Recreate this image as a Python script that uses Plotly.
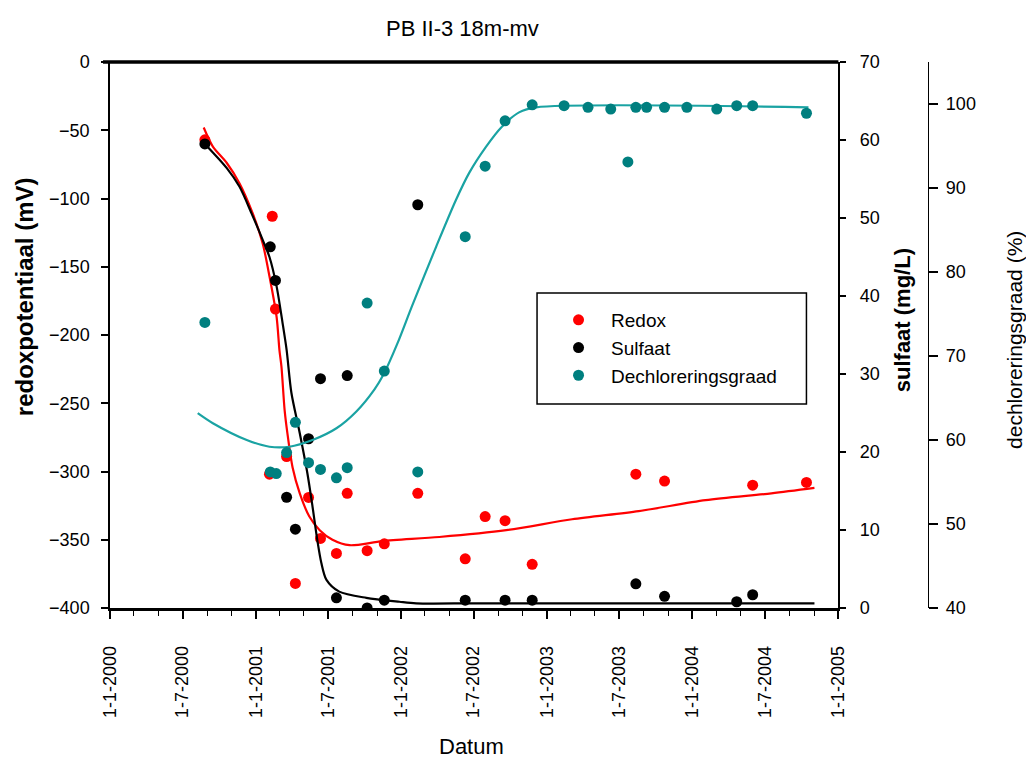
import plotly.graph_objects as go

# --- measurements -----------------------------------------------------------
redox_dates = ["2000-08-26", "2001-02-04", "2001-02-11", "2001-02-19", "2001-03-19",
               "2001-04-10", "2001-05-13", "2001-06-12", "2001-07-22", "2001-08-18",
               "2001-10-07", "2001-11-19", "2002-02-11", "2002-06-10", "2002-07-30",
               "2002-09-18", "2002-11-25", "2003-08-12", "2003-10-23", "2004-05-31",
               "2004-10-13"]
redox_mv = [-57, -302, -113, -181, -289, -382, -319, -349, -360, -316,
            -358, -353, -316, -364, -333, -336, -368, -302, -307, -310, -308]

sulfaat_dates = ["2000-08-26", "2001-02-06", "2001-02-19", "2001-03-19", "2001-04-10",
                 "2001-05-13", "2001-06-12", "2001-07-22", "2001-08-18", "2001-10-07",
                 "2001-11-19", "2002-02-11", "2002-06-10", "2002-09-18", "2002-11-25",
                 "2003-08-12", "2003-10-23", "2004-04-21", "2004-05-31"]
sulfaat_mgl = [59.5, 46.3, 42.0, 14.2, 10.1, 21.7, 29.4, 1.3, 29.8, 0.0,
               1.0, 51.7, 1.0, 1.0, 1.0, 3.1, 1.5, 0.8, 1.7]

dechlor_dates = ["2000-08-26", "2001-02-06", "2001-02-21", "2001-03-19", "2001-04-10",
                 "2001-05-13", "2001-06-12", "2001-07-22", "2001-08-18", "2001-10-07",
                 "2001-11-19", "2002-02-11", "2002-06-10", "2002-07-30", "2002-09-18",
                 "2002-11-25", "2003-02-13", "2003-04-14", "2003-06-10", "2003-07-23",
                 "2003-08-12", "2003-09-08", "2003-10-23", "2003-12-18", "2004-03-02",
                 "2004-04-21", "2004-05-31", "2004-10-13"]
dechlor_pct = [74.0, 56.2, 56.0, 58.5, 62.1, 57.3, 56.5, 55.5, 56.7, 76.3,
               68.2, 56.2, 84.2, 92.6, 98.0, 99.9, 99.8, 99.6, 99.4, 93.1,
               99.6, 99.6, 99.6, 99.6, 99.4, 99.8, 99.8, 98.9]

# --- trend lines --------------------------------------------------------------
redox_fit_dates = ["2000-08-23", "2000-09-15", "2000-10-20", "2000-11-21", "2000-12-24",
                   "2001-01-18", "2001-02-04", "2001-02-22", "2001-03-01", "2001-03-06",
                   "2001-03-14", "2001-03-21", "2001-04-03", "2001-04-21", "2001-05-15",
                   "2001-06-10", "2001-07-12", "2001-08-24", "2001-11-14", "2002-04-06",
                   "2002-09-21", "2003-03-05", "2003-08-19", "2004-02-03", "2004-07-17",
                   "2004-11-02"]
redox_fit = [-48, -62, -74, -89, -111, -133, -157, -187, -211, -223,
             -255, -272, -297, -316, -333, -343, -350, -354, -351, -348,
             -343, -335, -329, -321, -316, -312]

sulfaat_fit_dates = ["2000-08-26", "2000-10-20", "2000-11-21", "2000-12-21", "2001-01-18",
                     "2001-02-04", "2001-02-22", "2001-03-09", "2001-03-19", "2001-03-31",
                     "2001-04-21", "2001-05-10", "2001-05-23", "2001-06-04", "2001-06-14",
                     "2001-06-27", "2001-07-29", "2001-10-05", "2001-12-27", "2002-02-07",
                     "2002-07-15", "2004-11-02"]
sulfaat_fit = [59.5, 56.4, 54.0, 50.6, 47.2, 45.0, 41.2, 36.5, 33.1, 27.6,
               22.4, 17.3, 13.0, 8.7, 5.8, 3.6, 2.1, 1.3, 0.8, 0.6, 0.6, 0.6]

dechlor_fit_dates = ["2000-08-08", "2000-09-15", "2000-12-09", "2001-02-04", "2001-03-26",
                     "2001-05-23", "2001-07-22", "2001-09-10", "2001-10-25", "2001-11-17",
                     "2001-12-22", "2002-01-28", "2002-03-29", "2002-05-18", "2002-06-20",
                     "2002-08-01", "2002-09-10", "2002-10-23", "2002-12-05", "2004-10-18"]
dechlor_fit = [63.2, 62.0, 60.0, 59.2, 59.2, 60.0, 61.4, 63.4, 66.0, 67.8,
               71.5, 76.0, 83.0, 88.6, 91.8, 94.9, 97.3, 99.0, 99.6, 99.6]

# --- styling ------------------------------------------------------------------
FONT = "Liberation Sans, Arial, sans-serif"
RED, BLACK, TEAL, TEAL_LINE = "#FF0000", "#000000", "#007F7F", "#1AA3A3"

W, H = 1026, 758
M_L, M_R, M_T, M_B = 110, 20, 62, 150
plot_w = W - M_L - M_R
plot_h = H - M_T - M_B
x_end = 730 / plot_w            # right edge of the plotting area
y3_pos = (930 - M_L) / plot_w   # third axis (dechloreringsgraad)


def px_x(px):
    return (px - M_L) / plot_w


def px_y(py):
    return (M_T + plot_h - py) / plot_h


fig = go.Figure()

# trend lines
fig.add_trace(go.Scatter(x=dechlor_fit_dates, y=dechlor_fit, yaxis="y3", mode="lines",
                         line=dict(color=TEAL_LINE, width=2.2, shape="spline", smoothing=0.8),
                         showlegend=False, hoverinfo="skip"))
fig.add_trace(go.Scatter(x=sulfaat_fit_dates, y=sulfaat_fit, yaxis="y2", mode="lines",
                         line=dict(color=BLACK, width=2.2, shape="spline", smoothing=0.8),
                         showlegend=False, hoverinfo="skip"))
fig.add_trace(go.Scatter(x=redox_fit_dates, y=redox_fit, yaxis="y", mode="lines",
                         line=dict(color=RED, width=2.2, shape="spline", smoothing=0.8),
                         showlegend=False, hoverinfo="skip"))

# measured points
fig.add_trace(go.Scatter(x=redox_dates, y=redox_mv, yaxis="y", mode="markers", name="Redox",
                         marker=dict(color=RED, size=11, line=dict(width=0))))
fig.add_trace(go.Scatter(x=sulfaat_dates, y=sulfaat_mgl, yaxis="y2", mode="markers",
                         name="Sulfaat", marker=dict(color=BLACK, size=11, line=dict(width=0))))
fig.add_trace(go.Scatter(x=dechlor_dates, y=dechlor_pct, yaxis="y3", mode="markers",
                         name="Dechloreringsgraad",
                         marker=dict(color=TEAL, size=11, line=dict(width=0))))

tickfont = dict(family=FONT, size=18, color="black")

fig.update_layout(
    width=W, height=H,
    margin=dict(l=M_L, r=M_R, t=M_T, b=M_B, pad=0),
    paper_bgcolor="white", plot_bgcolor="white",
    font=dict(family=FONT, color="black"),
    xaxis=dict(
        type="date", domain=[0, x_end], range=["2000-01-01", "2005-01-01"],
        tick0="2000-01-01", dtick="M6", tickformat="%-d-%-m-%Y", tickangle=-90,
        ticks="outside", ticklen=8, tickwidth=1.5, tickcolor="black",
        minor=dict(dtick="M2", ticks="outside", ticklen=5, tickwidth=1, tickcolor="black"),
        showline=True, linewidth=2.5, linecolor="black", showgrid=False, zeroline=False,
        tickfont=tickfont, ticklabelstandoff=20,
    ),
    yaxis=dict(
        range=[-400, 0], dtick=50, ticks="outside", ticklen=7, tickwidth=1.5,
        tickcolor="black", showline=True, linewidth=1.5, linecolor="black",
        showgrid=False, zeroline=False, tickfont=tickfont, ticklabelstandoff=8,
    ),
    yaxis2=dict(
        overlaying="y", side="right", anchor="x", range=[0, 70], dtick=10,
        ticks="outside", ticklen=6, tickwidth=1.5, tickcolor="black",
        showline=True, linewidth=1.5, linecolor="black", showgrid=False,
        zeroline=False, tickfont=tickfont, ticklabelstandoff=10,
    ),
    yaxis3=dict(
        overlaying="y", side="right", anchor="free", position=y3_pos,
        range=[40, 105], tickvals=[40, 50, 60, 70, 80, 90, 100],
        ticks="outside", ticklen=9, tickwidth=1.5, tickcolor="black",
        showline=True, linewidth=1.2, linecolor="black", showgrid=False,
        zeroline=False, tickfont=tickfont, ticklabelstandoff=4,
    ),
    legend=dict(
        x=px_x(547), y=px_y(301), xanchor="left", yanchor="top",
        bgcolor="rgba(0,0,0,0)", borderwidth=0,
        font=dict(family=FONT, size=19, color="black"),
        itemwidth=55,
    ),
    showlegend=True,
)

# legend frame
fig.add_shape(type="rect", xref="paper", yref="paper",
              x0=px_x(538), x1=px_x(808), y0=px_y(404), y1=px_y(293),
              line=dict(color="black", width=1.5), fillcolor="white", layer="above")

# heavy border along the top of the plotting area
fig.add_shape(type="line", xref="paper", yref="paper", x0=px_x(103), x1=x_end, y0=1, y1=1,
              line=dict(color="black", width=3.5))

annotations = [
    dict(text="PB II-3 18m-mv", x=px_x(463), y=px_y(28), font=dict(size=22)),
    dict(text="<b>redoxpotentiaal (mV)</b>", x=px_x(24), y=px_y(297), textangle=-90,
         font=dict(size=24)),
    dict(text="<b>sulfaat (mg/L)</b>", x=px_x(904), y=px_y(320), textangle=-90,
         font=dict(size=22)),
    dict(text="dechloreringsgraad (%)", x=px_x(1016), y=px_y(340), textangle=-90,
         font=dict(size=21)),
    dict(text="Datum", x=px_x(472), y=px_y(746), font=dict(size=22)),
]
for a in annotations:
    a["font"].update(family=FONT, color="black")
    fig.add_annotation(xref="paper", yref="paper", xanchor="center", yanchor="middle",
                       showarrow=False, **a)

fig.write_html("out.html")
